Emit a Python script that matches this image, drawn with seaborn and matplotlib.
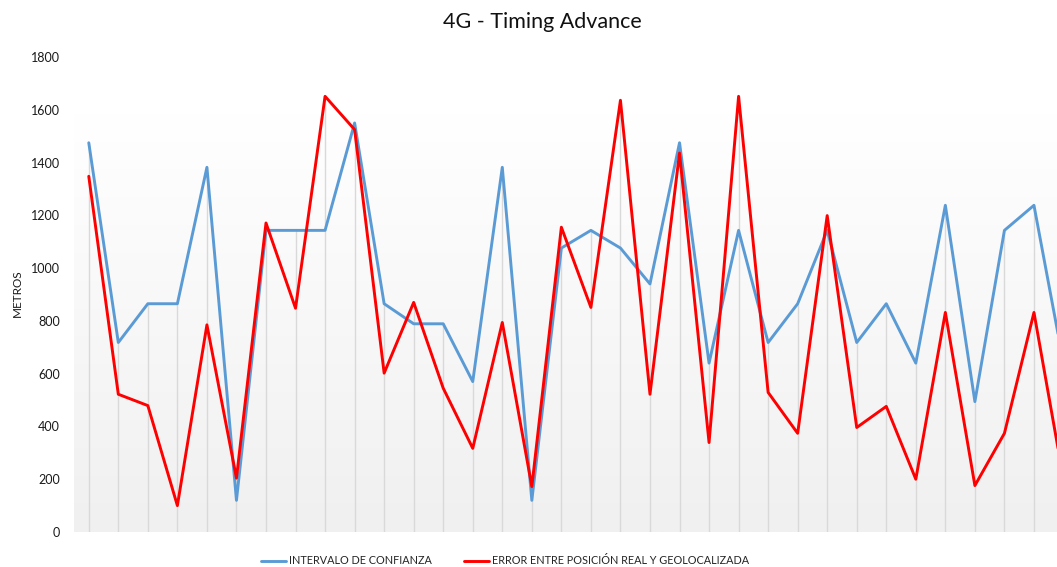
import numpy as np
import pandas as pd
import matplotlib
matplotlib.use("Agg")
import matplotlib.pyplot as plt
import seaborn as sns
from matplotlib.lines import Line2D

# Timing Advance confidence interval (metres) per measurement
intervalo = [1475, 718, 865, 865, 1382, 120, 1143, 1143, 1143, 1550,
             865, 789, 789, 570, 1382, 120, 1076, 1143, 1076, 940,
             1475, 640, 1143, 718, 865, 1143, 718, 865, 640, 1238,
             494, 1143, 1238, 640]
# Distance between real and geolocated position (metres)
error = [1348, 522, 479, 100, 785, 204, 1171, 848, 1651, 1525,
         602, 870, 545, 317, 794, 172, 1155, 851, 1636, 522,
         1436, 339, 1651, 529, 374, 1199, 396, 476, 200, 832,
         176, 374, 832, 200]
series_names = ["INTERVALO DE CONFIANZA", "ERROR ENTRE POSICIÓN REAL Y GEOLOCALIZADA"]
series_colors = ["#5B9BD5", "#FF0000"]
yticks = [0, 200, 400, 600, 800, 1000, 1200, 1400, 1600, 1800]

sns.set_theme(style="white")
plt.rcParams["font.family"] = ["Lato", "DejaVu Sans"]

idx = np.arange(len(intervalo))
df = pd.DataFrame({
    "punto": np.concatenate([idx, idx]),
    "metros": intervalo + error,
    "serie": [series_names[0]] * len(idx) + [series_names[1]] * len(idx),
})

W, H = 1057, 567
fig = plt.figure(figsize=(W / 100, H / 100), dpi=100)
ax = fig.add_axes([74 / W, 35 / H, (W - 74) / W, (532 - 57) / H])

# soft vertical gradient for the plot area
grad = np.linspace(0, 1, 256).reshape(-1, 1)
cmap = matplotlib.colors.LinearSegmentedColormap.from_list("bg", ["#f0f0f0", "#ffffff"])
ax.imshow(grad, aspect="auto", cmap=cmap, origin="lower",
          extent=[0, 1, 0, 0.88], transform=ax.transAxes, zorder=0)

# drop lines from the highest value of each point down to the axis
tops = np.maximum(intervalo, error)
ax.vlines(idx, 0, tops, colors="#d9d9d9", linewidth=1.0, zorder=1)

sns.lineplot(data=df, x="punto", y="metros", hue="serie", hue_order=series_names,
             palette=series_colors, linewidth=2.1, ax=ax, legend=False, zorder=3)

ax.set_xlim(-0.5, 32.78)
ax.set_ylim(0, 1800)
ax.set_yticks(yticks)
ax.set_yticklabels([str(t) for t in yticks], fontsize=9, color="#1a1a1a")
ax.set_xticks([])
ax.set_xlabel("")
ax.set_ylabel("")
ax.tick_params(axis="y", length=0, pad=10)
for s in ax.spines.values():
    s.set_visible(False)

fig.text(17 / W, 1 - 293 / H, "METROS", rotation=90, ha="center", va="center",
         fontsize=8.5, color="#1a1a1a")
fig.text(542 / W, 1 - 22 / H, "4G - Timing Advance", ha="center", va="center",
         fontsize=15.5, color="#111111")

handles = [Line2D([0], [0], color=c, linewidth=2.1) for c in series_colors]
fig.legend(handles, series_names, loc="center", bbox_to_anchor=(505 / W, 1 - 561 / H),
           ncol=2, frameon=False, fontsize=7.8, handlelength=2.3, handletextpad=0.28,
           columnspacing=3.0, borderaxespad=0)

fig.savefig("out.png", dpi=100)
